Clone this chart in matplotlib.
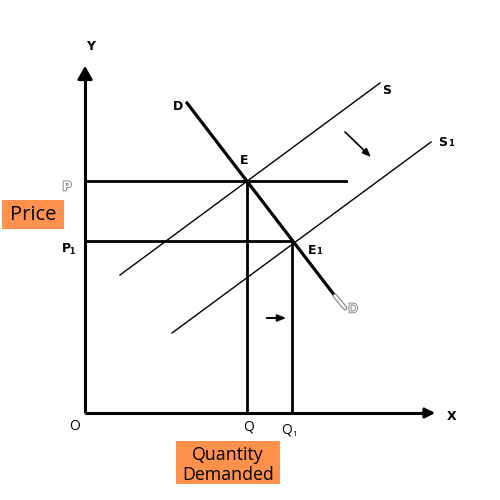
import matplotlib
matplotlib.use("Agg")
import matplotlib.pyplot as plt
import matplotlib.patheffects as pe

# Diagram coordinates (pixel-like units, origin top-left)
origin = (85, 413)
y_axis_top = 63
x_axis_right = 438
price_levels = {"P": 181, "P1": 241}
quantity_levels = {"Q": 247, "Q1": 292}
demand_x = [187, 335]
demand_y = [103, 296]
demand_tail_x = [335, 345]
demand_tail_y = [296, 308]
supply_x = [120, 380]
supply_y = [275, 83]
supply1_x = [172, 431]
supply1_y = [333, 142]
p_line_end = 346

fig = plt.figure(figsize=(5, 5), dpi=100)
ax = fig.add_axes([0, 0, 1, 1])
ax.set_xlim(0, 500)
ax.set_ylim(500, 0)
ax.axis("off")

ox, oy = origin
# axes
ax.plot([ox, ox], [oy, y_axis_top + 10], color="black", lw=2.2, solid_capstyle="butt")
ax.plot([ox, x_axis_right - 10], [oy, oy], color="black", lw=2.2, solid_capstyle="butt")
ax.annotate("", xy=(ox, y_axis_top), xytext=(ox, y_axis_top + 15),
            arrowprops=dict(arrowstyle="-|>,head_width=0.45,head_length=0.8", color="black", lw=2))
ax.annotate("", xy=(x_axis_right, oy), xytext=(x_axis_right - 15, oy),
            arrowprops=dict(arrowstyle="-|>,head_width=0.3,head_length=0.6", color="black", lw=2))

# price lines
ax.plot([ox, p_line_end], [price_levels["P"]] * 2, color="black", lw=2)
ax.plot([ox, quantity_levels["Q1"]], [price_levels["P1"]] * 2, color="black", lw=2)
# quantity lines
ax.plot([quantity_levels["Q"]] * 2, [price_levels["P"], oy], color="black", lw=2)
ax.plot([quantity_levels["Q1"]] * 2, [price_levels["P1"], oy], color="black", lw=2)

# supply curves
ax.plot(supply_x, supply_y, color="black", lw=1)
ax.plot(supply1_x, supply1_y, color="black", lw=1)
# demand
ax.plot(demand_x, demand_y, color="black", lw=2.3)
ax.plot(demand_tail_x, demand_tail_y, color="#888888", lw=3.5, solid_capstyle="round")
ax.plot(demand_tail_x, demand_tail_y, color="white", lw=1.8, solid_capstyle="round")

# shift arrows
ax.annotate("", xy=(373, 159), xytext=(343, 130),
            arrowprops=dict(arrowstyle="-|>,head_width=0.2,head_length=0.5", color="black", lw=1.2))
ax.annotate("", xy=(289, 318), xytext=(264, 318),
            arrowprops=dict(arrowstyle="-|>,head_width=0.2,head_length=0.5", color="black", lw=1.4))

lab = dict(fontsize=9, fontweight="bold", family="DejaVu Sans", color="black", ha="center", va="center")
ax.text(91, 47, "Y", **lab)
ax.text(452, 416, "X", **lab)
ax.text(178, 106, "D", **lab)
ax.text(387, 90, "S", **lab)
ax.text(443, 142, "S", **lab)
ax.text(451, 144, "1", fontsize=6, fontweight="bold", color="black", ha="center", va="center")
ax.text(244, 160, "E", **lab)
ax.text(312, 250, "E", **lab)
ax.text(319, 252, "1", fontsize=6, fontweight="bold", color="black", ha="center", va="center")

hollow = [pe.withStroke(linewidth=1.2, foreground="#777777")]
ax.text(67, 187, "P", fontsize=9, fontweight="bold", color="white", ha="center", va="center",
        path_effects=hollow)
ax.text(353, 309, "D", fontsize=9, color="white", ha="center", va="center", path_effects=hollow)
ax.text(66, 249, "P", fontsize=9, fontweight="bold", color="black", ha="center", va="center")
ax.text(72, 251, "1", fontsize=5.5, fontweight="bold", color="black", ha="center", va="center")

plain = dict(fontsize=10, family="Open Sans", color="black", ha="center", va="center")
ax.text(75, 427, "O", **plain)
ax.text(248, 427, "Q", **plain)
ax.text(287, 430, "Q", **plain)
ax.text(295, 434, "1", fontsize=6, family="Open Sans", color="black", ha="center", va="center")

orange = "#ff914d"
ax.add_patch(plt.Rectangle((2, 200), 62, 29, color=orange, lw=0))
ax.text(33, 214.5, "Price", fontsize=14.5, family="Open Sans", color="black", ha="center", va="center")
ax.add_patch(plt.Rectangle((176, 441), 104, 43, color=orange, lw=0))
ax.text(228, 465, "Quantity\nDemanded", fontsize=12.8, family="Open Sans", color="black",
        ha="center", va="center", linespacing=1.2)

fig.savefig("out.png", dpi=100, facecolor="white")
